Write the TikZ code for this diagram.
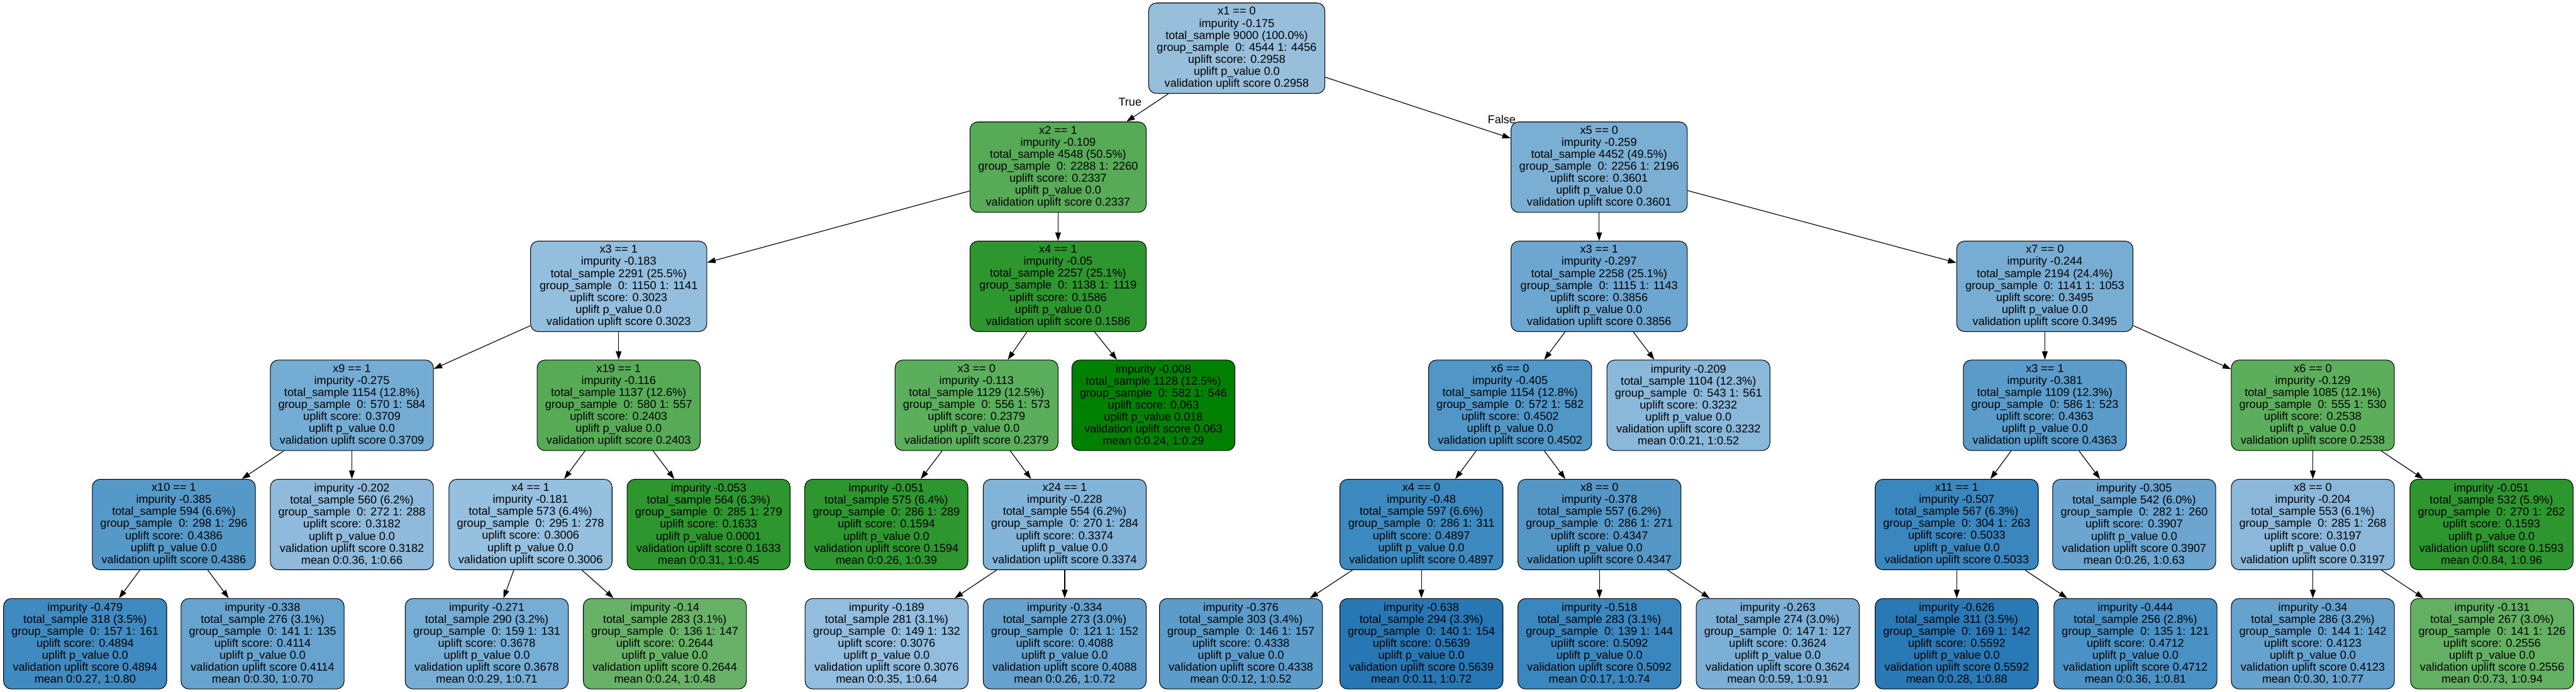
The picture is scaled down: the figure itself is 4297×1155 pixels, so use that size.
\documentclass[tikz,border=0pt]{standalone}
\usepackage{fontspec}
\setmainfont{Liberation Sans}
\usetikzlibrary{arrows.meta}
\definecolor{cRoot}{RGB}{151,191,220}
\definecolor{cXtwo}{RGB}{87,171,87}
\definecolor{cXfive}{RGB}{122,174,211}
\definecolor{cXthreeL}{RGB}{147,190,222}
\definecolor{cXfour}{RGB}{46,150,46}
\definecolor{cXthreeR}{RGB}{109,167,209}
\definecolor{cXseven}{RGB}{120,173,211}
\definecolor{cXnine}{RGB}{116,172,212}
\definecolor{cXnineteen}{RGB}{87,171,87}
\definecolor{cXthreez}{RGB}{91,174,91}
\definecolor{cLeafA}{RGB}{0,128,0}
\definecolor{cXsixL}{RGB}{80,150,198}
\definecolor{cLeafB}{RGB}{138,184,219}
\definecolor{cXthreeone}{RGB}{90,155,202}
\definecolor{cXsixR}{RGB}{92,174,92}
\definecolor{cXten}{RGB}{84,153,200}
\definecolor{cLeafC}{RGB}{143,186,219}
\definecolor{cXfourone}{RGB}{150,192,223}
\definecolor{cLeafD}{RGB}{46,150,46}
\definecolor{cLeafE}{RGB}{46,150,46}
\definecolor{cXtwentyfour}{RGB}{130,179,216}
\definecolor{cXfourz}{RGB}{61,138,192}
\definecolor{cXeightL}{RGB}{84,151,199}
\definecolor{cXeleven}{RGB}{58,134,191}
\definecolor{cLeafF}{RGB}{107,165,208}
\definecolor{cXeightR}{RGB}{139,184,218}
\definecolor{cLeafG}{RGB}{46,150,46}
\definecolor{cLa}{RGB}{62,138,193}
\definecolor{cLb}{RGB}{103,163,207}
\definecolor{cLc}{RGB}{118,173,212}
\definecolor{cLd}{RGB}{104,178,104}
\definecolor{cLe}{RGB}{146,189,222}
\definecolor{cLf}{RGB}{102,162,206}
\definecolor{cLg}{RGB}{92,156,202}
\definecolor{cLh}{RGB}{39,119,181}
\definecolor{cLi}{RGB}{58,134,191}
\definecolor{cLj}{RGB}{123,175,213}
\definecolor{cLk}{RGB}{42,121,183}
\definecolor{cLl}{RGB}{74,146,197}
\definecolor{cLm}{RGB}{102,162,206}
\definecolor{cLn}{RGB}{99,176,99}
\newcommand{\gs}{group\_sample\ \ }
\newcommand{\ts}{total\_sample }
\newcommand{\pv}{uplift p\_value }
\begin{document}
\begin{tikzpicture}[x=1pt,y=-1pt,
  tn/.style={draw=black, line width=1.1pt, rounded corners=13pt, minimum width=272pt,
    minimum height=151pt, inner sep=0pt, align=center, font=\fontsize{19}{20}\selectfont},
  widebox/.style={minimum width=294pt},
  edge/.style={line width=1.2pt, -{Triangle[length=14pt,width=9.5pt]}},
  lbl/.style={font=\fontsize{19}{20}\selectfont, inner sep=0pt}]
\useasboundingbox (0,0) rectangle (4297,1155);
\fill[white] (0,0) rectangle (4297,1155);
% row 1
\node[tn,widebox,fill=cRoot] (root) at (2063,80.5) {x1 == 0\\impurity -0.175\\\ts 9000 (100.0\%)\\\gs 0: 4544 1: 4456\\uplift score: 0.2958\\\pv 0.0\\validation uplift score 0.2958};
% row 2
\node[tn,widebox,fill=cXtwo] (xtwo) at (1765,279) {x2 == 1\\impurity -0.109\\\ts 4548 (50.5\%)\\\gs 0: 2288 1: 2260\\uplift score: 0.2337\\\pv 0.0\\validation uplift score 0.2337};
\node[tn,widebox,fill=cXfive] (xfive) at (2667.5,279) {x5 == 0\\impurity -0.259\\\ts 4452 (49.5\%)\\\gs 0: 2256 1: 2196\\uplift score: 0.3601\\\pv 0.0\\validation uplift score 0.3601};
% row 3
\node[tn,widebox,fill=cXthreeL] (xthreeL) at (1032,478) {x3 == 1\\impurity -0.183\\\ts 2291 (25.5\%)\\\gs 0: 1150 1: 1141\\uplift score: 0.3023\\\pv 0.0\\validation uplift score 0.3023};
\node[tn,widebox,fill=cXfour] (xfour) at (1765,478) {x4 == 1\\impurity -0.05\\\ts 2257 (25.1\%)\\\gs 0: 1138 1: 1119\\uplift score: 0.1586\\\pv 0.0\\validation uplift score 0.1586};
\node[tn,widebox,fill=cXthreeR] (xthreeR) at (2667.5,478) {x3 == 1\\impurity -0.297\\\ts 2258 (25.1\%)\\\gs 0: 1115 1: 1143\\uplift score: 0.3856\\\pv 0.0\\validation uplift score 0.3856};
\node[tn,widebox,fill=cXseven] (xseven) at (3411,478) {x7 == 0\\impurity -0.244\\\ts 2194 (24.4\%)\\\gs 0: 1141 1: 1053\\uplift score: 0.3495\\\pv 0.0\\validation uplift score 0.3495};
% row 4
\node[tn,fill=cXnine] (xnine) at (587,676.5) {x9 == 1\\impurity -0.275\\\ts 1154 (12.8\%)\\\gs 0: 570 1: 584\\uplift score: 0.3709\\\pv 0.0\\validation uplift score 0.3709};
\node[tn,fill=cXnineteen] (xnineteen) at (1032,676.5) {x19 == 1\\impurity -0.116\\\ts 1137 (12.6\%)\\\gs 0: 580 1: 557\\uplift score: 0.2403\\\pv 0.0\\validation uplift score 0.2403};
\node[tn,fill=cXthreez] (xthreez) at (1629,676.5) {x3 == 0\\impurity -0.113\\\ts 1129 (12.5\%)\\\gs 0: 556 1: 573\\uplift score: 0.2379\\\pv 0.0\\validation uplift score 0.2379};
\node[tn,fill=cLeafA] (leafA) at (1924,676.5) {impurity -0.008\\\ts 1128 (12.5\%)\\\gs 0: 582 1: 546\\uplift score: 0.063\\\pv 0.018\\validation uplift score 0.063\\mean 0:0.24, 1:0.29};
\node[tn,fill=cXsixL] (xsixL) at (2519,676.5) {x6 == 0\\impurity -0.405\\\ts 1154 (12.8\%)\\\gs 0: 572 1: 582\\uplift score: 0.4502\\\pv 0.0\\validation uplift score 0.4502};
\node[tn,fill=cLeafB] (leafB) at (2816.5,676.5) {impurity -0.209\\\ts 1104 (12.3\%)\\\gs 0: 543 1: 561\\uplift score: 0.3232\\\pv 0.0\\validation uplift score 0.3232\\mean 0:0.21, 1:0.52};
\node[tn,fill=cXthreeone] (xthreeone) at (3411,676.5) {x3 == 1\\impurity -0.381\\\ts 1109 (12.3\%)\\\gs 0: 586 1: 523\\uplift score: 0.4363\\\pv 0.0\\validation uplift score 0.4363};
\node[tn,fill=cXsixR] (xsixR) at (3858,676.5) {x6 == 0\\impurity -0.129\\\ts 1085 (12.1\%)\\\gs 0: 555 1: 530\\uplift score: 0.2538\\\pv 0.0\\validation uplift score 0.2538};
% row 5
\node[tn,fill=cXten] (xten) at (290,875.5) {x10 == 1\\impurity -0.385\\\ts 594 (6.6\%)\\\gs 0: 298 1: 296\\uplift score: 0.4386\\\pv 0.0\\validation uplift score 0.4386};
\node[tn,fill=cLeafC] (leafC) at (587,875.5) {impurity -0.202\\\ts 560 (6.2\%)\\\gs 0: 272 1: 288\\uplift score: 0.3182\\\pv 0.0\\validation uplift score 0.3182\\mean 0:0.36, 1:0.66};
\node[tn,fill=cXfourone] (xfourone) at (885,875.5) {x4 == 1\\impurity -0.181\\\ts 573 (6.4\%)\\\gs 0: 295 1: 278\\uplift score: 0.3006\\\pv 0.0\\validation uplift score 0.3006};
\node[tn,fill=cLeafD] (leafD) at (1182,875.5) {impurity -0.053\\\ts 564 (6.3\%)\\\gs 0: 285 1: 279\\uplift score: 0.1633\\\pv 0.0001\\validation uplift score 0.1633\\mean 0:0.31, 1:0.45};
\node[tn,fill=cLeafE] (leafE) at (1478.5,875.5) {impurity -0.051\\\ts 575 (6.4\%)\\\gs 0: 286 1: 289\\uplift score: 0.1594\\\pv 0.0\\validation uplift score 0.1594\\mean 0:0.26, 1:0.39};
\node[tn,fill=cXtwentyfour] (xtwentyfour) at (1776,875.5) {x24 == 1\\impurity -0.228\\\ts 554 (6.2\%)\\\gs 0: 270 1: 284\\uplift score: 0.3374\\\pv 0.0\\validation uplift score 0.3374};
\node[tn,fill=cXfourz] (xfourz) at (2371,875.5) {x4 == 0\\impurity -0.48\\\ts 597 (6.6\%)\\\gs 0: 286 1: 311\\uplift score: 0.4897\\\pv 0.0\\validation uplift score 0.4897};
\node[tn,fill=cXeightL] (xeightL) at (2668,875.5) {x8 == 0\\impurity -0.378\\\ts 557 (6.2\%)\\\gs 0: 286 1: 271\\uplift score: 0.4347\\\pv 0.0\\validation uplift score 0.4347};
\node[tn,fill=cXeleven] (xeleven) at (3264,875.5) {x11 == 1\\impurity -0.507\\\ts 567 (6.3\%)\\\gs 0: 304 1: 263\\uplift score: 0.5033\\\pv 0.0\\validation uplift score 0.5033};
\node[tn,fill=cLeafF] (leafF) at (3560,875.5) {impurity -0.305\\\ts 542 (6.0\%)\\\gs 0: 282 1: 260\\uplift score: 0.3907\\\pv 0.0\\validation uplift score 0.3907\\mean 0:0.26, 1:0.63};
\node[tn,fill=cXeightR] (xeightR) at (3858,875.5) {x8 == 0\\impurity -0.204\\\ts 553 (6.1\%)\\\gs 0: 285 1: 268\\uplift score: 0.3197\\\pv 0.0\\validation uplift score 0.3197};
\node[tn,fill=cLeafG] (leafG) at (4156,875.5) {impurity -0.051\\\ts 532 (5.9\%)\\\gs 0: 270 1: 262\\uplift score: 0.1593\\\pv 0.0\\validation uplift score 0.1593\\mean 0:0.84, 1:0.96};
% row 6
\node[tn,fill=cLa] (La) at (142,1074.5) {impurity -0.479\\\ts 318 (3.5\%)\\\gs 0: 157 1: 161\\uplift score: 0.4894\\\pv 0.0\\validation uplift score 0.4894\\mean 0:0.27, 1:0.80};
\node[tn,fill=cLb] (Lb) at (438,1074.5) {impurity -0.338\\\ts 276 (3.1\%)\\\gs 0: 141 1: 135\\uplift score: 0.4114\\\pv 0.0\\validation uplift score 0.4114\\mean 0:0.30, 1:0.70};
\node[tn,fill=cLc] (Lc) at (812,1074.5) {impurity -0.271\\\ts 290 (3.2\%)\\\gs 0: 159 1: 131\\uplift score: 0.3678\\\pv 0.0\\validation uplift score 0.3678\\mean 0:0.29, 1:0.71};
\node[tn,fill=cLd] (Ld) at (1109,1074.5) {impurity -0.14\\\ts 283 (3.1\%)\\\gs 0: 136 1: 147\\uplift score: 0.2644\\\pv 0.0\\validation uplift score 0.2644\\mean 0:0.24, 1:0.48};
\node[tn,fill=cLe] (Le) at (1479,1074.5) {impurity -0.189\\\ts 281 (3.1\%)\\\gs 0: 149 1: 132\\uplift score: 0.3076\\\pv 0.0\\validation uplift score 0.3076\\mean 0:0.35, 1:0.64};
\node[tn,fill=cLf] (Lf) at (1776,1074.5) {impurity -0.334\\\ts 273 (3.0\%)\\\gs 0: 121 1: 152\\uplift score: 0.4088\\\pv 0.0\\validation uplift score 0.4088\\mean 0:0.26, 1:0.72};
\node[tn,fill=cLg] (Lg) at (2070,1074.5) {impurity -0.376\\\ts 303 (3.4\%)\\\gs 0: 146 1: 157\\uplift score: 0.4338\\\pv 0.0\\validation uplift score 0.4338\\mean 0:0.12, 1:0.52};
\node[tn,fill=cLh] (Lh) at (2371,1074.5) {impurity -0.638\\\ts 294 (3.3\%)\\\gs 0: 140 1: 154\\uplift score: 0.5639\\\pv 0.0\\validation uplift score 0.5639\\mean 0:0.11, 1:0.72};
\node[tn,fill=cLi] (Li) at (2668,1074.5) {impurity -0.518\\\ts 283 (3.1\%)\\\gs 0: 139 1: 144\\uplift score: 0.5092\\\pv 0.0\\validation uplift score 0.5092\\mean 0:0.17, 1:0.74};
\node[tn,fill=cLj] (Lj) at (2965.5,1074.5) {impurity -0.263\\\ts 274 (3.0\%)\\\gs 0: 147 1: 127\\uplift score: 0.3624\\\pv 0.0\\validation uplift score 0.3624\\mean 0:0.59, 1:0.91};
\node[tn,fill=cLk] (Lk) at (3264,1074.5) {impurity -0.626\\\ts 311 (3.5\%)\\\gs 0: 169 1: 142\\uplift score: 0.5592\\\pv 0.0\\validation uplift score 0.5592\\mean 0:0.28, 1:0.88};
\node[tn,fill=cLl] (Ll) at (3562,1074.5) {impurity -0.444\\\ts 256 (2.8\%)\\\gs 0: 135 1: 121\\uplift score: 0.4712\\\pv 0.0\\validation uplift score 0.4712\\mean 0:0.36, 1:0.81};
\node[tn,fill=cLm] (Lm) at (3858,1074.5) {impurity -0.34\\\ts 286 (3.2\%)\\\gs 0: 144 1: 142\\uplift score: 0.4123\\\pv 0.0\\validation uplift score 0.4123\\mean 0:0.30, 1:0.77};
\node[tn,fill=cLn] (Ln) at (4157,1074.5) {impurity -0.131\\\ts 267 (3.0\%)\\\gs 0: 141 1: 126\\uplift score: 0.2556\\\pv 0.0\\validation uplift score 0.2556\\mean 0:0.73, 1:0.94};
% labels
\node[lbl] (ltrue) at (1885,170) {True};
\node[lbl] (lfalse) at (2505,199) {False};
% edges
\draw[edge] (root) -- (xtwo);
\draw[edge] (root) -- (xfive);
\draw[edge] (xtwo) -- (xthreeL);
\draw[edge] (xtwo) -- (xfour);
\draw[edge] (xfive) -- (xthreeR);
\draw[edge] (xfive) -- (xseven);
\draw[edge] (xthreeL) -- (xnine);
\draw[edge] (xthreeL) -- (xnineteen);
\draw[edge] (xfour) -- (xthreez);
\draw[edge] (xfour) -- (leafA);
\draw[edge] (xthreeR) -- (xsixL);
\draw[edge] (xthreeR) -- (leafB);
\draw[edge] (xseven) -- (xthreeone);
\draw[edge] (xseven) -- (xsixR);
\draw[edge] (xnine) -- (xten);
\draw[edge] (xnine) -- (leafC);
\draw[edge] (xnineteen) -- (xfourone);
\draw[edge] (xnineteen) -- (leafD);
\draw[edge] (xthreez) -- (leafE);
\draw[edge] (xthreez) -- (xtwentyfour);
\draw[edge] (xsixL) -- (xfourz);
\draw[edge] (xsixL) -- (xeightL);
\draw[edge] (xthreeone) -- (xeleven);
\draw[edge] (xthreeone) -- (leafF);
\draw[edge] (xsixR) -- (xeightR);
\draw[edge] (xsixR) -- (leafG);
\draw[edge] (xten) -- (La);
\draw[edge] (xten) -- (Lb);
\draw[edge] (xfourone) -- (Lc);
\draw[edge] (xfourone) -- (Ld);
\draw[edge] (xtwentyfour) -- (Le);
\draw[edge] (xtwentyfour) -- (Lf);
\draw[edge] (xfourz) -- (Lg);
\draw[edge] (xfourz) -- (Lh);
\draw[edge] (xeightL) -- (Li);
\draw[edge] (xeightL) -- (Lj);
\draw[edge] (xeleven) -- (Lk);
\draw[edge] (xeleven) -- (Ll);
\draw[edge] (xeightR) -- (Lm);
\draw[edge] (xeightR) -- (Ln);
\end{tikzpicture}
\end{document}
